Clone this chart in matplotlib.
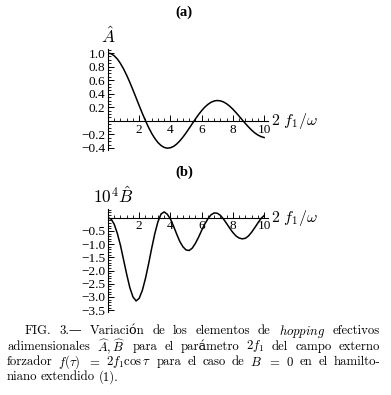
import numpy as np
import matplotlib
matplotlib.use("Agg")
import matplotlib.pyplot as plt
from matplotlib.ticker import MultipleLocator, FixedLocator, FixedFormatter

plt.rcParams['mathtext.fontset'] = 'cm'

# valores (paso 0.2 en 2 f1/omega)
x_vals = [i * 0.2 for i in range(51)]
a_vals = [1.000, 0.990, 0.960, 0.912, 0.846, 0.765, 0.671, 0.567, 0.455, 0.340,
          0.224, 0.110, 0.003, -0.097, -0.185, -0.260, -0.320, -0.364, -0.392, -0.403,
          -0.397, -0.377, -0.342, -0.296, -0.240, -0.178, -0.110, -0.041, 0.027, 0.092,
          0.151, 0.202, 0.243, 0.274, 0.293, 0.300, 0.295, 0.279, 0.252, 0.215,
          0.172, 0.122, 0.069, 0.014, -0.039, -0.090, -0.137, -0.177, -0.209, -0.232,
          -0.246]
b_vals = [0.00, -0.05, -0.25, -0.60, -1.05, -1.60, -2.15, -2.65, -3.00, -3.15,
          -3.05, -2.75, -2.30, -1.75, -1.15, -0.60, -0.15, 0.14, 0.22, 0.13,
          -0.05, -0.32, -0.62, -0.90, -1.10, -1.22, -1.24, -1.15, -0.97, -0.74,
          -0.48, -0.24, -0.04, 0.11, 0.18, 0.17, 0.09, -0.05, -0.22, -0.40,
          -0.56, -0.69, -0.77, -0.80, -0.78, -0.69, -0.55, -0.38, -0.20, -0.03,
          0.08]

xticks = [2, 4, 6, 8, 10]
a_yticks = [-0.4, -0.2, 0.2, 0.4, 0.6, 0.8, 1.0]
b_yticks = [-3.5, -3.0, -2.5, -2.0, -1.5, -1.0, -0.5]

W, H = 391, 395
fig = plt.figure(figsize=(W / 100, H / 100), dpi=100)
tickfont = ['Liberation Serif', 'DejaVu Serif']


def make_axes(x0, x1, ytop_px, ybot_px, ylim, yticks, yminor, y, title):
    ax = fig.add_axes([x0 / W, 1 - ybot_px / H, (x1 - x0) / W, (ybot_px - ytop_px) / H])
    ax.plot(x_vals, y, color='black', lw=1.1)
    ax.set_xlim(0, 10.25)
    ax.set_ylim(*ylim)
    for s in ['top', 'right']:
        ax.spines[s].set_visible(False)
    ax.spines['bottom'].set_position(('data', 0))
    ax.spines['left'].set_position(('data', 0))
    ax.spines['bottom'].set_linewidth(0.8)
    ax.spines['left'].set_linewidth(0.8)
    ax.patch.set_visible(False)
    ax.xaxis.set_major_locator(FixedLocator(xticks))
    ax.xaxis.set_major_formatter(FixedFormatter([str(t) for t in xticks]))
    ax.xaxis.set_minor_locator(MultipleLocator(0.4))
    ax.yaxis.set_major_locator(FixedLocator(yticks))
    ax.yaxis.set_major_formatter(FixedFormatter(['\u2212%.1f' % -t if t < 0 else '%.1f' % t for t in yticks]))
    ax.yaxis.set_minor_locator(MultipleLocator(yminor))
    ax.tick_params(which='major', direction='in', length=4, width=0.7, pad=2)
    ax.tick_params(which='minor', direction='in', length=2, width=0.6)
    for lab in ax.get_xticklabels() + ax.get_yticklabels():
        lab.set_family(tickfont)
        lab.set_fontsize(9.5)
    ax.text(10.45, 0, r'$\mathbf{2}\ f_1/\omega$', fontsize=11.5, va='center', ha='left')
    fig.text(184 / W, 1 - (ytop_px - 37) / H, title, ha='center', va='center',
             family=tickfont, weight='bold', fontsize=10.5)
    return ax


ax1 = make_axes(108, 268, 49, 150, (-0.43, 1.06), a_yticks, 0.05, a_vals, '(a)')
fig.text(108 / W, 1 - 37 / H, r'$\hat{A}$', ha='center', va='center', fontsize=12.5)

ax2 = make_axes(108, 268, 209, 312, (-3.57, 0.33), b_yticks, 0.1, b_vals, '(b)')
fig.text(93 / W, 1 - 197 / H, r'$\mathbf{10}^{\mathbf{4}}\hat{B}$', ha='left', va='center', fontsize=12.5)

# pie de figura, justificado
lines = [
    ["FIG.", "3.\u2014", "Variación", "de", "los", "elementos", "de", r"$\mathit{hopping}$", "efectivos"],
    ["adimensionales", r"$\widehat{A},\widehat{B}$", "para", "el", "parámetro", r"$2f_1$", "del", "campo", "externo"],
    ["forzador", r"$f(\tau)$", r"$=$", r"$2f_1\cos\tau$", "para", "el", "caso", "de", r"$B$", r"$=$", r"$0$", "en", "el", "hamilto-"],
    ["niano", "extendido", "(1)."],
]
starts = [25, 7, 7, 7]
right = 380
ys = [331, 346.5, 362, 377]
cap_family = ['cmr10', 'DejaVu Serif']
renderer = fig.canvas.get_renderer()
for i, (words, x0, yy) in enumerate(zip(lines, starts, ys)):
    txts = [fig.text(0, 1 - yy / H, w, fontsize=9.2, family=cap_family, va='center', ha='left')
            for w in words]
    widths = [t.get_window_extent(renderer).width for t in txts]
    if i < len(lines) - 1:
        gap = (right - x0 - sum(widths)) / (len(words) - 1)
    else:
        gap = 3.5
    pos = x0
    for t, w in zip(txts, widths):
        t.set_x(pos / W)
        pos += w + gap

fig.savefig('out.png', dpi=100)
